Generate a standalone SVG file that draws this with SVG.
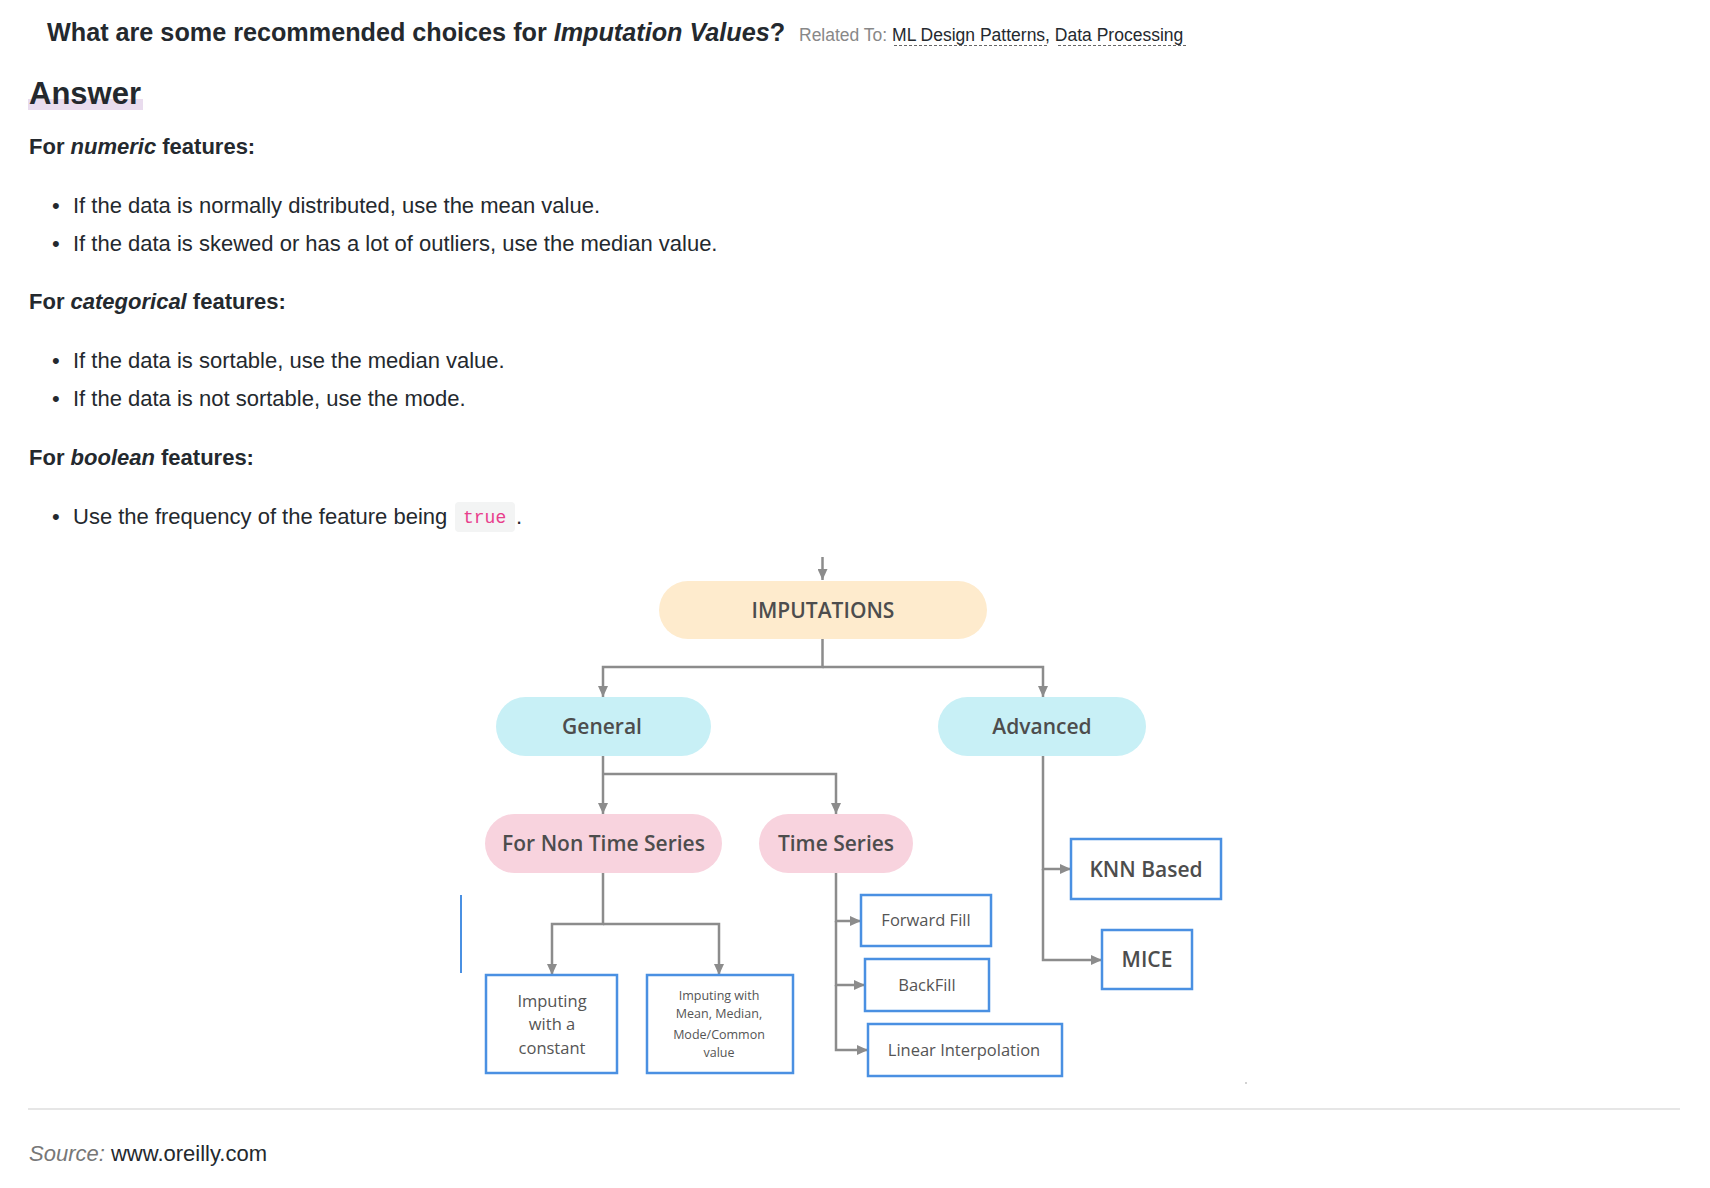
<svg xmlns="http://www.w3.org/2000/svg" width="1710" height="1188" viewBox="0 0 1710 1188">
<style>
.t{font-family:"Liberation Sans",Arial,sans-serif;fill:#24292e}
.b{font-weight:bold}
.i{font-style:italic}
.body{font-size:22px}
.d{font-family:"Open Sans","Noto Sans",sans-serif;text-anchor:middle;fill:#4d4d4d}
.pill{font-size:21px;font-weight:600}
.box{fill:#fff;stroke:#4a90e2;stroke-width:2.5}
.bt{font-size:16.5px;fill:#555}
.c{fill:none;stroke:#8c8c8c;stroke-width:2.5}
</style>
<defs>
<marker id="ah" markerUnits="userSpaceOnUse" markerWidth="11" markerHeight="10" refX="11" refY="5" orient="auto">
<path d="M0,0 L11,5 L0,10 z" fill="#8c8c8c"/>
</marker>
</defs>
<rect width="1710" height="1188" fill="#fff"/>
<g id="header">
<text class="t b" x="47" y="41" font-size="25.2">What are some recommended choices for <tspan class="i">Imputation Values</tspan>?</text>
<text class="t" x="799" y="41" font-size="17.5" style="fill:#888">Related To: <tspan style="fill:#24292e">ML Design Patterns</tspan><tspan style="fill:#24292e">, </tspan><tspan style="fill:#24292e">Data Processing</tspan></text>
<line x1="894" y1="45.5" x2="1049" y2="45.5" stroke="#666" stroke-width="1.2" stroke-dasharray="3,2"/>
<line x1="1058" y1="45.5" x2="1187" y2="45.5" stroke="#666" stroke-width="1.2" stroke-dasharray="3,2"/>
</g>
<g id="answer">
<rect x="28" y="99" width="115" height="11" fill="#e9dcee"/>
<text class="t b" x="29" y="104" font-size="31">Answer</text>
<text class="t b body" x="29" y="154">For <tspan class="i">numeric</tspan> features:</text>
<text class="t body" x="52" y="213">•</text>
<text class="t body" x="73" y="213">If the data is normally distributed, use the mean value.</text>
<text class="t body" x="52" y="251">•</text>
<text class="t body" x="73" y="251">If the data is skewed or has a lot of outliers, use the median value.</text>
<text class="t b body" x="29" y="309">For <tspan class="i">categorical</tspan> features:</text>
<text class="t body" x="52" y="368">•</text>
<text class="t body" x="73" y="368">If the data is sortable, use the median value.</text>
<text class="t body" x="52" y="406">•</text>
<text class="t body" x="73" y="406">If the data is not sortable, use the mode.</text>
<text class="t b body" x="29" y="465">For <tspan class="i">boolean</tspan> features:</text>
<text class="t body" x="52" y="524">•</text>
<text class="t body" x="73" y="524">Use the frequency of the feature being</text>
<rect x="455" y="502" width="60" height="30" rx="4" fill="#f3f4f4"/>
<text x="463" y="523" font-family="'Liberation Mono',monospace" font-size="18" fill="#e83e8c">true</text>
<text class="t body" x="516" y="524">.</text>
</g>
<g id="connectors">
<path class="c" d="M822.5,557 V580" marker-end="url(#ah)"/>
<path class="c" d="M822.5,639 V667 H603 V697" marker-end="url(#ah)"/>
<path class="c" d="M822.5,667 H1043 V697" marker-end="url(#ah)"/>
<path class="c" d="M603,756 V814" marker-end="url(#ah)"/>
<path class="c" d="M603,774 H836 V814" marker-end="url(#ah)"/>
<path class="c" d="M603,873 V924 H552 V975" marker-end="url(#ah)"/>
<path class="c" d="M603,924 H719 V975" marker-end="url(#ah)"/>
<path class="c" d="M836,873 V921 H861" marker-end="url(#ah)"/>
<path class="c" d="M836,921 V985 H865" marker-end="url(#ah)"/>
<path class="c" d="M836,985 V1050 H868" marker-end="url(#ah)"/>
<path class="c" d="M1043,756 V869 H1071" marker-end="url(#ah)"/>
<path class="c" d="M1043,869 V960 H1102" marker-end="url(#ah)"/>
</g>
<g id="imputations">
<rect x="659" y="581" width="328" height="58" rx="29" fill="#feebcd"/>
<text class="d pill" x="823" y="618">IMPUTATIONS</text>
</g>
<g id="general">
<rect x="496" y="697" width="215" height="59" rx="29.5" fill="#c8f0f6"/>
<text class="d pill" x="602" y="734">General</text>
</g>
<g id="advanced">
<rect x="938" y="697" width="208" height="59" rx="29.5" fill="#c8f0f6"/>
<text class="d pill" x="1042" y="734">Advanced</text>
</g>
<g id="non-time-series">
<rect x="485" y="814" width="237" height="59" rx="29.5" fill="#f8d3de"/>
<text class="d pill" x="603.5" y="851">For Non Time Series</text>
</g>
<g id="time-series">
<rect x="759" y="814" width="154" height="59" rx="29.5" fill="#f8d3de"/>
<text class="d pill" x="836" y="851">Time Series</text>
</g>
<g id="constant">
<rect class="box" x="486" y="975" width="131" height="98"/>
<text class="d" x="552" y="1007" font-size="16.5" style="fill:#555">Imputing</text>
<text class="d" x="552" y="1030" font-size="16.5" style="fill:#555">with a</text>
<text class="d" x="552" y="1054" font-size="16.5" style="fill:#555">constant</text>
</g>
<g id="mean-median">
<rect class="box" x="647" y="975" width="146" height="98"/>
<text class="d" x="719" y="1000" font-size="12.5" style="fill:#555">Imputing with</text>
<text class="d" x="719" y="1018" font-size="12.5" style="fill:#555">Mean, Median,</text>
<text class="d" x="719" y="1039" font-size="12.5" style="fill:#555">Mode/Common</text>
<text class="d" x="719" y="1057" font-size="12.5" style="fill:#555">value</text>
</g>
<g id="forward-fill">
<rect class="box" x="861" y="895" width="130" height="51"/>
<text class="d bt" x="926" y="926">Forward Fill</text>
</g>
<g id="backfill">
<rect class="box" x="865" y="959" width="124" height="52"/>
<text class="d bt" x="927" y="991">BackFill</text>
</g>
<g id="linear-interpolation">
<rect class="box" x="868" y="1024" width="194" height="52"/>
<text class="d bt" x="964" y="1056">Linear Interpolation</text>
</g>
<g id="knn">
<rect class="box" x="1071" y="839" width="150" height="60"/>
<text class="d pill" x="1146" y="877">KNN Based</text>
</g>
<g id="mice">
<rect class="box" x="1102" y="930" width="90" height="59"/>
<text class="d pill" x="1147" y="967">MICE</text>
</g>
<g id="extras">
<line x1="461" y1="895" x2="461" y2="973" stroke="#4a90e2" stroke-width="2"/>
<circle cx="1246" cy="1083" r="0.8" fill="#999"/>
</g>
<g id="footer">
<line x1="28" y1="1109" x2="1680" y2="1109" stroke="#e6e6e6" stroke-width="2"/>
<text class="t body" x="29" y="1161"><tspan class="i" style="fill:#777">Source:</tspan> www.oreilly.com</text>
</g>
</svg>
